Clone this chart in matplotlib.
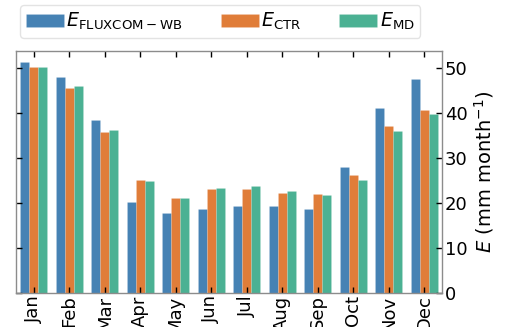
import matplotlib
matplotlib.use("Agg")
import matplotlib.pyplot as plt
import numpy as np

months = ["Jan", "Feb", "Mar", "Apr", "May", "Jun", "Jul", "Aug", "Sep", "Oct", "Nov", "Dec"]
e_fluxcom = [51.3, 48.1, 38.5, 20.2, 17.8, 18.6, 19.4, 19.3, 18.7, 28.0, 41.1, 47.7]
e_ctr = [50.3, 45.7, 35.7, 25.0, 21.1, 23.2, 23.0, 22.1, 22.0, 26.2, 37.2, 40.6]
e_md = [50.2, 46.0, 36.2, 24.9, 21.2, 23.3, 23.8, 22.7, 21.8, 25.0, 36.1, 39.7]
series_labels = [r"$E_{\mathrm{FLUXCOM-WB}}$", r"$E_{\mathrm{CTR}}$", r"$E_{\mathrm{MD}}$"]
colors = ["#4682b4", "#e07d39", "#4bb193"]

fig = plt.figure(figsize=(5.08, 3.27), dpi=100)
ax = fig.add_axes([16/508, 1 - 292.7/327, (442-16)/508, (292.7-50.7)/327])

x = np.arange(len(months))
w = 0.25
for i, (vals, lab, c) in enumerate(zip([e_fluxcom, e_ctr, e_md], series_labels, colors)):
    ax.bar(x + (i - 1) * w, vals, width=w, color=c, label=lab,
           edgecolor=(1, 1, 1, 0.15), linewidth=0.5)

ax.set_xlim(-0.5, 11.5)
ax.set_ylim(0, 53.9)
ax.set_xticks(x)
ax.set_xticklabels(months, rotation=90, fontsize=13)
ax.set_yticks([0, 10, 20, 30, 40, 50])
ax.tick_params(direction="in", left=True, right=True, top=True, bottom=True,
               labelleft=False, labelright=True, labelsize=13, length=4, pad=2,
               width=1.0)
ax.yaxis.set_label_position("right")
ax.set_ylabel(r"$E$ (mm month$^{-1}$)", fontsize=14, labelpad=3)
for s in ax.spines.values():
    s.set_color("#8c8c8c")
    s.set_linewidth(1.0)

leg = ax.legend(loc="lower left", bbox_to_anchor=(0.0094, 1.052), ncol=3, fontsize=13.7,
                frameon=True, fancybox=True, edgecolor="#dddddd", handlelength=2.0,
                columnspacing=2.0, handletextpad=0.12, borderaxespad=0.0,
                borderpad=0.3)

fig.savefig("out.png", dpi=100)
